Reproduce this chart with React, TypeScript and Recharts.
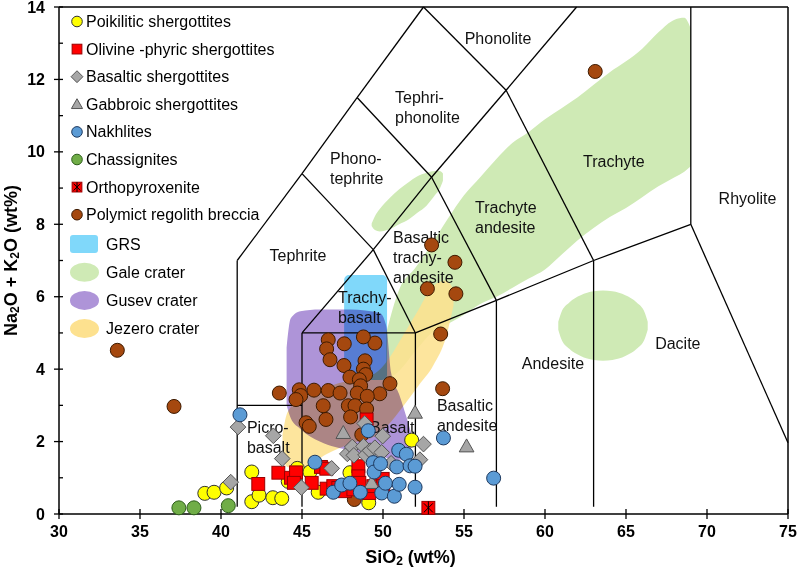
import React from "react";
import {
  ComposedChart,
  XAxis,
  YAxis,
  Area,
  Scatter,
  ReferenceLine,
  ReferenceArea,
  Legend,
} from "recharts";

const FONT = "'Liberation Sans', Arial, Helvetica, sans-serif";

// SiO2 (x) vs Na2O + K2O (y), wt%
const poikilitic = [
  { x: 39.0, y: 0.57 }, { x: 39.57, y: 0.6 }, { x: 40.35, y: 0.72 }, { x: 41.9, y: 1.16 },
  { x: 41.9, y: 0.34 }, { x: 42.35, y: 0.52 }, { x: 43.2, y: 0.45 }, { x: 43.75, y: 0.43 },
  { x: 44.15, y: 0.9 }, { x: 44.71, y: 1.26 }, { x: 45.49, y: 1.16 }, { x: 46.0, y: 0.6 },
  { x: 47.96, y: 1.14 }, { x: 49.12, y: 0.31 }, { x: 51.77, y: 2.04 },
];
const olivinePhyric = [
  { x: 42.3, y: 0.83 }, { x: 43.54, y: 1.14 }, { x: 44.32, y: 1.0 }, { x: 44.63, y: 1.15 },
  { x: 44.5, y: 0.86 }, { x: 45.6, y: 0.86 }, { x: 46.17, y: 1.3 }, { x: 46.5, y: 1.25 },
  { x: 46.52, y: 0.7 }, { x: 46.93, y: 0.77 }, { x: 47.24, y: 0.72 }, { x: 47.65, y: 0.63 },
  { x: 48.17, y: 0.68 }, { x: 48.48, y: 1.32 }, { x: 48.48, y: 1.04 }, { x: 48.54, y: 0.86 },
  { x: 48.99, y: 2.61 }, { x: 49.15, y: 0.58 }, { x: 49.4, y: 0.77 }, { x: 49.98, y: 0.97 },
  { x: 50.02, y: 0.77 },
];
const basaltic = [
  { x: 41.05, y: 2.4 }, { x: 40.6, y: 0.88 }, { x: 43.23, y: 2.16 }, { x: 43.78, y: 1.53 },
  { x: 44.96, y: 0.73 }, { x: 46.83, y: 1.26 }, { x: 47.8, y: 1.66 }, { x: 48.1, y: 1.85 },
  { x: 48.2, y: 1.62 }, { x: 48.79, y: 1.87 }, { x: 48.92, y: 1.63 }, { x: 49.2, y: 1.75 },
  { x: 49.5, y: 1.83 }, { x: 49.92, y: 1.7 }, { x: 49.98, y: 2.15 }, { x: 48.87, y: 2.5 },
  { x: 50.5, y: 1.4 }, { x: 52.5, y: 1.93 }, { x: 52.28, y: 1.5 },
];
const gabbroic = [
  { x: 47.55, y: 2.24 }, { x: 51.98, y: 2.8 }, { x: 49.3, y: 0.86 }, { x: 55.16, y: 1.87 },
];
const nakhlites = [
  { x: 41.17, y: 2.74 }, { x: 45.8, y: 1.43 }, { x: 46.93, y: 0.6 }, { x: 47.45, y: 0.8 },
  { x: 47.96, y: 0.85 }, { x: 48.6, y: 0.6 }, { x: 49.09, y: 2.3 }, { x: 49.4, y: 1.42 },
  { x: 49.45, y: 1.16 }, { x: 49.85, y: 1.39 }, { x: 49.92, y: 0.58 }, { x: 50.15, y: 0.85 },
  { x: 50.7, y: 0.49 }, { x: 50.85, y: 1.3 }, { x: 50.97, y: 1.76 }, { x: 51.0, y: 0.82 },
  { x: 51.44, y: 1.65 }, { x: 51.67, y: 1.33 }, { x: 51.98, y: 1.32 }, { x: 51.98, y: 0.74 },
  { x: 53.73, y: 2.1 }, { x: 56.83, y: 0.99 },
];
const chassignites = [{ x: 37.4, y: 0.17 }, { x: 38.33, y: 0.17 }, { x: 40.45, y: 0.23 }];
const orthopyroxenite = [{ x: 52.8, y: 0.17 }];
const polymict = [
  { x: 33.6, y: 4.52 }, { x: 37.1, y: 2.97 }, { x: 63.1, y: 12.22 }, { x: 53.0, y: 7.43 },
  { x: 54.44, y: 6.95 }, { x: 52.74, y: 6.22 }, { x: 54.5, y: 6.08 }, { x: 53.56, y: 4.97 },
  { x: 53.68, y: 3.46 }, { x: 49.5, y: 4.72 }, { x: 50.43, y: 3.6 }, { x: 49.8, y: 3.32 },
  { x: 46.62, y: 4.81 }, { x: 46.52, y: 4.56 }, { x: 46.73, y: 4.26 }, { x: 47.61, y: 4.7 },
  { x: 48.79, y: 4.89 }, { x: 48.89, y: 4.23 }, { x: 47.59, y: 4.1 }, { x: 48.79, y: 4.0 },
  { x: 48.93, y: 3.85 }, { x: 47.96, y: 3.78 }, { x: 48.54, y: 3.71 }, { x: 48.62, y: 3.54 },
  { x: 43.6, y: 3.34 }, { x: 44.83, y: 3.43 }, { x: 44.92, y: 3.27 }, { x: 44.63, y: 3.16 },
  { x: 45.74, y: 3.42 }, { x: 46.62, y: 3.41 }, { x: 47.35, y: 3.34 }, { x: 48.41, y: 3.34 },
  { x: 49.03, y: 3.25 }, { x: 46.31, y: 2.99 }, { x: 47.86, y: 2.99 }, { x: 48.27, y: 2.99 },
  { x: 48.99, y: 2.9 }, { x: 46.48, y: 2.61 }, { x: 48.0, y: 2.68 }, { x: 45.25, y: 2.52 },
  { x: 45.45, y: 2.42 }, { x: 48.69, y: 2.19 }, { x: 48.23, y: 0.4 },
];

// rover / orbital fields, [low, high] of Na2O + K2O at each SiO2
const galeMain = [
  { x: 50.2, range: [3.7, 5.0] }, { x: 51, range: [3.95, 6.2] }, { x: 52, range: [4.5, 6.8] },
  { x: 53, range: [5.0, 7.45] }, { x: 54, range: [5.25, 8.15] }, { x: 55, range: [5.5, 8.8] },
  { x: 56, range: [5.8, 9.3] }, { x: 57, range: [6.0, 9.8] }, { x: 58, range: [6.25, 10.25] },
  { x: 59, range: [6.5, 10.55] }, { x: 60, range: [6.75, 10.9] }, { x: 61, range: [7.15, 11.2] },
  { x: 62, range: [7.55, 11.5] }, { x: 63, range: [7.9, 11.85] }, { x: 64, range: [8.2, 12.2] },
  { x: 65, range: [8.45, 12.5] }, { x: 66, range: [8.75, 12.85] }, { x: 67, range: [9.05, 13.3] },
  { x: 68, range: [9.3, 13.65] }, { x: 68.6, range: [9.45, 13.7] }, { x: 69, range: [9.6, 13.4] },
];
const galeSmall = [
  { x: 49.3, range: [7.95, 8.02] }, { x: 49.5, range: [7.84, 8.22] }, { x: 49.8, range: [7.8, 8.42] },
  { x: 50.4, range: [7.86, 8.72] }, { x: 51.0, range: [8.0, 8.97] }, { x: 51.6, range: [8.14, 9.17] },
  { x: 52.1, range: [8.31, 9.32] }, { x: 52.7, range: [8.52, 9.42] }, { x: 53.2, range: [8.8, 9.47] },
  { x: 53.5, range: [8.98, 9.47] }, { x: 53.7, range: [9.2, 9.4] },
];
const galeDacite = [
  { x: 60.82, range: [5.09, 5.31] }, { x: 61.0, range: [4.84, 5.56] }, { x: 61.5, range: [4.56, 5.84] },
  { x: 62.2, range: [4.36, 6.04] }, { x: 63.0, range: [4.25, 6.15] }, { x: 63.58, range: [4.23, 6.17] },
  { x: 64.16, range: [4.25, 6.15] }, { x: 64.96, range: [4.36, 6.04] }, { x: 65.66, range: [4.56, 5.84] },
  { x: 66.16, range: [4.84, 5.56] }, { x: 66.34, range: [5.09, 5.31] },
];
const gusev = [
  { x: 44.05, range: [3.0, 4.6] }, { x: 44.3, range: [2.65, 5.4] }, { x: 44.9, range: [2.35, 5.6] },
  { x: 46.1, range: [2.0, 5.65] }, { x: 48.0, range: [1.75, 5.65] }, { x: 49.8, range: [1.6, 5.55] },
  { x: 50.2, range: [1.55, 5.2] }, { x: 50.5, range: [1.5, 3.9] }, { x: 51.0, range: [1.5, 3.3] },
  { x: 51.5, range: [1.6, 2.6] }, { x: 51.85, range: [1.95, 2.05] },
];
const jezero = [
  { x: 43.8, range: [1.55, 2.2] }, { x: 44.1, range: [1.3, 2.8] }, { x: 45.0, range: [1.25, 3.2] },
  { x: 46.5, range: [1.65, 3.5] }, { x: 48.0, range: [1.95, 3.7] }, { x: 49.5, range: [2.15, 3.88] },
  { x: 50.3, range: [2.45, 4.25] }, { x: 51.2, range: [2.95, 4.9] }, { x: 52.2, range: [3.55, 5.65] },
  { x: 53.1, range: [4.1, 6.3] }, { x: 53.9, range: [4.9, 6.45] }, { x: 54.35, range: [5.75, 6.2] },
];
const grsBox = { x1: 47.6, x2: 50.25, y1: 3.7, y2: 6.6 };

// TAS field boundaries (polylines of [SiO2, alkalis])
const tasBoundaries: number[][][] = [
  [[41, 0.2], [41, 7], [45, 9.4], [48.4, 11.5], [52.5, 14]],
  [[41, 3], [45, 3]],
  [[45, 0.2], [45, 5], [52, 5], [52, 0.2]],
  [[45, 5], [49.4, 7.3], [52, 5]],
  [[45, 9.4], [49.4, 7.3]],
  [[49.4, 7.3], [53, 9.3], [57.6, 11.7], [61.95, 14]],
  [[48.4, 11.5], [53, 9.3], [57, 5.9]],
  [[52.5, 14], [57.6, 11.7], [63, 7]],
  [[52, 5], [57, 5.9], [63, 7], [69, 8], [75, 1.97]],
  [[57, 0.2], [57, 5.9]],
  [[63, 0.2], [63, 7]],
  [[69, 8], [69, 14]],
];

const fieldLabels = [
  { x: 57.1, y: 13.15, lines: ["Phonolite"], anchor: "middle" },
  { x: 50.74, y: 11.52, lines: ["Tephri-", "phonolite"], anchor: "start" },
  { x: 46.73, y: 9.83, lines: ["Phono-", "tephrite"], anchor: "start" },
  { x: 44.75, y: 7.16, lines: ["Tephrite"], anchor: "middle" },
  { x: 55.68, y: 8.48, lines: ["Trachyte", "andesite"], anchor: "start" },
  { x: 50.62, y: 7.66, lines: ["Basaltic", "trachy-", "andesite"], anchor: "start" },
  { x: 64.25, y: 9.75, lines: ["Trachyte"], anchor: "middle" },
  { x: 72.5, y: 8.73, lines: ["Rhyolite"], anchor: "middle" },
  { x: 47.22, y: 6.0, lines: ["Trachy-", "basalt"], anchor: "start" },
  { x: 41.6, y: 2.41, lines: ["Picro-", "basalt"], anchor: "start" },
  { x: 49.2, y: 2.41, lines: ["Basalt"], anchor: "start" },
  { x: 53.33, y: 3.02, lines: ["Basaltic", "andesite"], anchor: "start" },
  { x: 60.49, y: 4.18, lines: ["Andesite"], anchor: "middle" },
  { x: 68.2, y: 4.73, lines: ["Dacite"], anchor: "middle" },
];

const xTicks = [30, 35, 40, 45, 50, 55, 60, 65, 70, 75];
const yTicks = [0, 1, 2, 3, 4, 5, 6, 7, 8, 9, 10, 11, 12, 13, 14];

const seriesNames = [
  "Poikilitic shergottites",
  "Olivine -phyric shergottites",
  "Basaltic shergottites",
  "Gabbroic shergottites",
  "Nakhlites",
  "Chassignites",
  "Orthopyroxenite",
  "Polymict regolith breccia",
];
const fieldNames = ["GRS", "Gale crater", "Gusev crater", "Jezero crater"];

const STYLE: Record<string, { kind: string; fill: string; stroke: string }> = {
  "Poikilitic shergottites": { kind: "circle", fill: "#ffff00", stroke: "#333" },
  "Olivine -phyric shergottites": { kind: "square", fill: "#ff0000", stroke: "#9a0000" },
  "Basaltic shergottites": { kind: "diamond", fill: "#a6a6a6", stroke: "#555" },
  "Gabbroic shergottites": { kind: "triangle", fill: "#a6a6a6", stroke: "#555" },
  Nakhlites: { kind: "circle", fill: "#5b9bd5", stroke: "#1f3a5f" },
  Chassignites: { kind: "circle", fill: "#70ad47", stroke: "#2e5e1b" },
  Orthopyroxenite: { kind: "ortho", fill: "#ff0000", stroke: "#9a0000" },
  "Polymict regolith breccia": { kind: "circle", fill: "#a5480f", stroke: "#3d1a00" },
};
const FIELD_COLOR: Record<string, string> = {
  GRS: "#80d8fa",
  "Gale crater": "#cfeab5",
  "Gusev crater": "#ae94d8",
  "Jezero crater": "#fde18f",
};

function Marker({ kind, cx, cy, s, fill, stroke }: any) {
  if (kind === "circle") return <circle cx={cx} cy={cy} r={s} fill={fill} stroke={stroke} strokeWidth={1} />;
  if (kind === "square" || kind === "ortho") {
    const h = s * 0.92;
    return (
      <g>
        <rect x={cx - h} y={cy - h} width={2 * h} height={2 * h} fill={fill} stroke={stroke} strokeWidth={1} />
        {kind === "ortho" && (
          <g stroke="#000" strokeWidth={1}>
            <line x1={cx - h * 0.7} y1={cy - h * 0.7} x2={cx + h * 0.7} y2={cy + h * 0.7} />
            <line x1={cx - h * 0.7} y1={cy + h * 0.7} x2={cx + h * 0.7} y2={cy - h * 0.7} />
            <line x1={cx} y1={cy - h} x2={cx} y2={cy + h} />
          </g>
        )}
      </g>
    );
  }
  if (kind === "diamond") {
    const d = s * 1.12;
    return (
      <polygon
        points={`${cx},${cy - d} ${cx + d},${cy} ${cx},${cy + d} ${cx - d},${cy}`}
        fill={fill}
        stroke={stroke}
        strokeWidth={1}
      />
    );
  }
  const w = s * 1.05;
  return (
    <polygon
      points={`${cx},${cy - s * 1.05} ${cx + w},${cy + s * 0.8} ${cx - w},${cy + s * 0.8}`}
      fill={fill}
      stroke={stroke}
      strokeWidth={1}
    />
  );
}

const pointShape = (name: string) => (p: any) => <Marker {...STYLE[name]} cx={p.cx} cy={p.cy} s={7} />;

const FieldLabel = (p: any) => {
  const { cx, cy, payload } = p;
  return (
    <text
      x={cx}
      y={cy}
      textAnchor={payload.anchor}
      dominantBaseline="central"
      fontFamily={FONT}
      fontSize={16}
      fill="#111"
    >
      {payload.lines.map((l: string, i: number) => (
        <tspan key={i} x={cx} dy={i === 0 ? 0 : 20}>
          {l}
        </tspan>
      ))}
    </text>
  );
};

const XTick = (p: any) => {
  const { x, y, payload } = p;
  return (
    <g>
      <line x1={x} x2={x} y1={y - 5} y2={y + 5} stroke="#000" strokeWidth={1.3} />
      <text x={x} y={y + 17} textAnchor="middle" dominantBaseline="central" fontFamily={FONT} fontWeight="bold" fontSize={16} fill="#000">
        {payload.value}
      </text>
    </g>
  );
};

const YTick = (p: any) => {
  const { x, y, payload } = p;
  const major = payload.value % 2 === 0;
  return (
    <g>
      <line x1={major ? x - 5 : x} x2={x + 4} y1={y} y2={y} stroke="#000" strokeWidth={1.3} />
      {major && (
        <text x={x - 14} y={y} textAnchor="end" dominantBaseline="central" fontFamily={FONT} fontWeight="bold" fontSize={16} fill="#000">
          {payload.value}
        </text>
      )}
    </g>
  );
};

const XTitle = (p: any) => {
  const vb = p.viewBox || { x: 59, y: 514, width: 729 };
  return (
    <text x={vb.x + vb.width / 2 - 13} y={vb.y + 43} textAnchor="middle" dominantBaseline="central" fontFamily={FONT} fontWeight="bold" fontSize={18} fill="#000">
      SiO<tspan dy={4} fontSize={12}>2</tspan>
      <tspan dy={-4}> (wt%)</tspan>
    </text>
  );
};

const YTitle = (p: any) => {
  const vb = p.viewBox || { x: 0, y: 7, height: 507 };
  const cx = vb.x + 11;
  const cy = vb.y + vb.height / 2;
  return (
    <text x={cx} y={cy} transform={`rotate(-90 ${cx} ${cy})`} textAnchor="middle" dominantBaseline="central" fontFamily={FONT} fontWeight="bold" fontSize={18} fill="#000">
      Na<tspan dy={4} fontSize={12}>2</tspan>
      <tspan dy={-4}>O + K</tspan>
      <tspan dy={4} fontSize={12}>2</tspan>
      <tspan dy={-4}>O (wt%)</tspan>
    </text>
  );
};

const LegendBox = () => (
  <svg width={320} height={345} style={{ display: "block" }}>
    {seriesNames.map((name, i) => {
      const cy = 21.5 + i * 27.6;
      return (
        <g key={name}>
          <Marker {...STYLE[name]} cx={77} cy={cy} s={5.3} />
          <text x={86} y={cy} dominantBaseline="central" fontFamily={FONT} fontSize={16} fill="#000">
            {name}
          </text>
        </g>
      );
    })}
    {fieldNames.map((name, i) => {
      const cy = 244 + i * 28.2;
      return (
        <g key={name}>
          {i === 0 ? (
            <rect x={70} y={cy - 9} width={28} height={18} rx={3} fill={FIELD_COLOR[name]} />
          ) : (
            <ellipse cx={84.5} cy={cy} rx={14.5} ry={9.5} fill={FIELD_COLOR[name]} />
          )}
          <text x={106} y={cy} dominantBaseline="central" fontFamily={FONT} fontSize={16} fill="#000">
            {name}
          </text>
        </g>
      );
    })}
  </svg>
);

const segments = tasBoundaries.flatMap((line) =>
  line.slice(1).map((pt, i) => [line[i], pt])
);

export default function App() {
  return (
    <div style={{ position: "absolute", left: 0, top: 0, width: 800, height: 573, background: "#fff" }}>
      <style>{`.blend-multiply { mix-blend-mode: multiply; }`}</style>
      <ComposedChart width={800} height={573} margin={{ top: 7, right: 12, bottom: 0, left: 0 }}>
        <XAxis
          dataKey="x"
          type="number"
          domain={[30, 75]}
          ticks={xTicks}
          interval={0}
          tickLine={false}
          tickSize={0}
          tickMargin={0}
          tick={(p: any) => <XTick {...p} />}
          axisLine={{ stroke: "#000", strokeWidth: 1.5 }}
          height={59}
          label={(p: any) => <XTitle {...p} />}
        />
        <YAxis
          dataKey="y"
          type="number"
          domain={[0, 14]}
          ticks={yTicks}
          interval={0}
          tickLine={false}
          tickSize={0}
          tickMargin={0}
          tick={(p: any) => <YTick {...p} />}
          axisLine={{ stroke: "#000", strokeWidth: 1.5 }}
          width={59}
          label={(p: any) => <YTitle {...p} />}
        />
        <Legend
          layout="vertical"
          align="center"
          verticalAlign="middle"
          wrapperStyle={{ left: 0, top: 0, width: 320, height: 345 }}
          content={() => <LegendBox />}
        />

        <Area data={galeMain} dataKey="range" type="monotone" fill={FIELD_COLOR["Gale crater"]} fillOpacity={1} stroke="none" dot={false} activeDot={false} isAnimationActive={false} />
        <Area data={galeSmall} dataKey="range" type="monotone" fill={FIELD_COLOR["Gale crater"]} fillOpacity={1} stroke="none" dot={false} activeDot={false} isAnimationActive={false} />
        <Area data={galeDacite} dataKey="range" type="monotone" fill={FIELD_COLOR["Gale crater"]} fillOpacity={1} stroke="none" dot={false} activeDot={false} isAnimationActive={false} />
        <Area data={jezero} dataKey="range" type="monotone" fill={FIELD_COLOR["Jezero crater"]} fillOpacity={0.88} stroke="none" dot={false} activeDot={false} isAnimationActive={false} />
        <Area data={gusev} dataKey="range" type="monotone" className="blend-multiply" fill={FIELD_COLOR["Gusev crater"]} fillOpacity={1} stroke="none" dot={false} activeDot={false} isAnimationActive={false} />
        <ReferenceArea {...grsBox} className="blend-multiply" fill={FIELD_COLOR.GRS} fillOpacity={1} stroke="none" radius={5} />

        {segments.map((s, i) => (
          <ReferenceLine
            key={i}
            segment={[{ x: s[0][0], y: s[0][1] }, { x: s[1][0], y: s[1][1] }]}
            stroke="#000"
            strokeWidth={1.3}
            ifOverflow="visible"
          />
        ))}
        <ReferenceLine y={14} stroke="#000" strokeWidth={1.5} />
        <ReferenceLine x={75} stroke="#000" strokeWidth={1.5} />

        <Scatter data={fieldLabels} shape={FieldLabel} isAnimationActive={false} />
        <Scatter data={polymict} shape={pointShape("Polymict regolith breccia")} isAnimationActive={false} />
        <Scatter data={poikilitic} shape={pointShape("Poikilitic shergottites")} isAnimationActive={false} />
        <Scatter data={olivinePhyric} shape={pointShape("Olivine -phyric shergottites")} isAnimationActive={false} />
        <Scatter data={basaltic} shape={pointShape("Basaltic shergottites")} isAnimationActive={false} />
        <Scatter data={gabbroic} shape={pointShape("Gabbroic shergottites")} isAnimationActive={false} />
        <Scatter data={nakhlites} shape={pointShape("Nakhlites")} isAnimationActive={false} />
        <Scatter data={chassignites} shape={pointShape("Chassignites")} isAnimationActive={false} />
        <Scatter data={orthopyroxenite} shape={pointShape("Orthopyroxenite")} isAnimationActive={false} />
      </ComposedChart>
    </div>
  );
}
